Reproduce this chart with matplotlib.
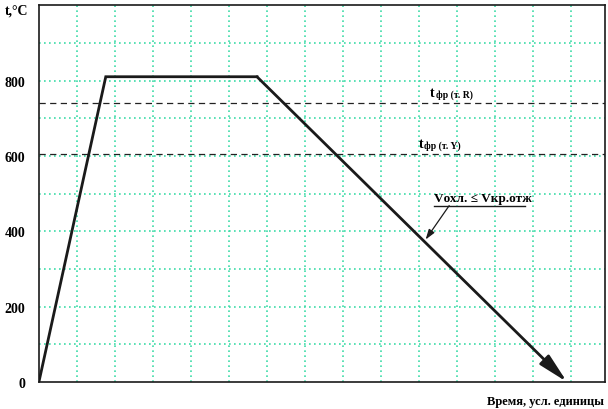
import matplotlib.pyplot as plt

# heat treatment curve: time (conventional units), temperature
t = [0.0, 1.76, 5.74, 13.9]
temp = [0, 810, 810, 0]
t_R = 740
t_Y = 605
yticks = [0, 200, 400, 600, 800]

plt.rcParams['font.family'] = ['Liberation Serif', 'DejaVu Serif']
plt.rcParams['font.weight'] = 'bold'

fig = plt.figure(figsize=(6.08, 4.10), dpi=100)
ax = fig.add_axes([0.064, 0.066, 0.931, 0.919])

grid_col = '#3ddca8'
for x in range(1, 15):
    ax.axvline(x, color=grid_col, linestyle=(0, (1, 2)), linewidth=1.2, zorder=0)
for y in range(100, 1000, 100):
    ax.axhline(y, color=grid_col, linestyle=(0, (1, 2)), linewidth=1.2, zorder=0)

ax.axhline(t_R, color='#222222', linestyle=(0, (5, 3.5)), linewidth=0.9, zorder=1)
ax.axhline(t_Y, color='#222222', linestyle=(0, (5, 3.5)), linewidth=0.9, zorder=1)

ax.plot(t[:3], temp[:3], color='#1a1a1a', linewidth=2, solid_joinstyle='miter', zorder=3)
ax.annotate('', xy=(t[3], temp[3]), xytext=(t[2], temp[2]),
            arrowprops=dict(arrowstyle='-|>,head_length=1.8,head_width=0.4',
                            color='#1a1a1a', lw=2, shrinkA=0, shrinkB=0), zorder=3)

ax.text(10.3, t_R + 10, 't', fontsize=10, va='bottom')
ax.text(10.44, t_R + 10, 'фр (т. R)', fontsize=7, va='bottom')
ax.text(10.0, t_Y + 10, 't', fontsize=10, va='bottom')
ax.text(10.14, t_Y + 10, 'фр (т. Y)', fontsize=7, va='bottom')

ax.text(10.4, 472, 'Vохл. ≤ Vкр.отж', fontsize=9.5, va='bottom')
ax.plot([10.4, 12.8], [468, 468], color='#1a1a1a', linewidth=1)
ax.annotate('', xy=(10.18, 378), xytext=(10.8, 468),
            arrowprops=dict(arrowstyle='-|>,head_length=0.6,head_width=0.2',
                            color='#1a1a1a', lw=0.9, shrinkA=0, shrinkB=0))

ax.set_xlim(0, 14.9)
ax.set_ylim(0, 1000)
ax.set_xticks([])
ax.set_yticks(yticks)
ax.set_yticklabels([str(v) for v in yticks], fontsize=10)
ax.tick_params(axis='y', length=0, pad=10)
for s in ax.spines.values():
    s.set_linewidth(1.2)
    s.set_color('#1a1a1a')

fig.text(5 / 608, 1 - 11 / 410, 't,°C', fontsize=10, va='center', ha='left')
fig.text(604 / 608, 1 - 402 / 410, 'Время, усл. единицы', fontsize=9, va='center', ha='right')

fig.savefig('out.png', dpi=100)
